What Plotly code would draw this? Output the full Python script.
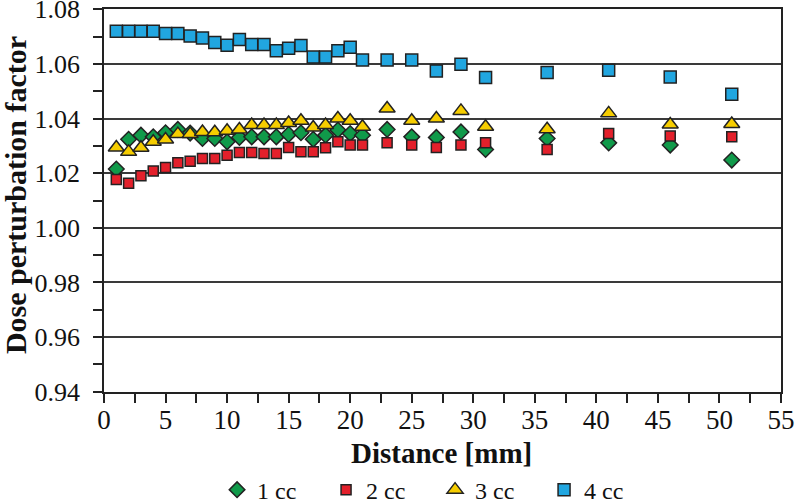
import plotly.graph_objects as go

x_dense = list(range(1, 22))
x_sparse = [23, 25, 27, 29, 31, 36, 41, 46, 51]
distance = x_dense + x_sparse

cc1 = [1.0215, 1.0324, 1.0339, 1.0333, 1.0348, 1.0360, 1.0347, 1.0327, 1.0327, 1.0315,
       1.0331, 1.0333, 1.0333, 1.0333, 1.0342, 1.0348, 1.0324, 1.0339, 1.0358, 1.0345,
       1.0339, 1.0360, 1.0333, 1.0331, 1.0351, 1.0287, 1.0327, 1.0311, 1.0303, 1.0248]
cc2 = [1.0177, 1.0163, 1.0191, 1.0208, 1.0221, 1.0238, 1.0244, 1.0254, 1.0254, 1.0266,
       1.0276, 1.0276, 1.0272, 1.0272, 1.0294, 1.0278, 1.0278, 1.0293, 1.0315, 1.0303,
       1.0303, 1.0311, 1.0303, 1.0294, 1.0303, 1.0311, 1.0287, 1.0345, 1.0336, 1.0333]
cc3 = [1.0294, 1.0278, 1.0293, 1.0315, 1.0323, 1.0343, 1.0343, 1.0351, 1.0350, 1.0355,
       1.0360, 1.0376, 1.0376, 1.0376, 1.0384, 1.0392, 1.0367, 1.0376, 1.0400, 1.0392,
       1.0370, 1.0437, 1.0392, 1.0400, 1.0428, 1.0370, 1.0361, 1.0419, 1.0378, 1.0380]
cc4 = [1.0720, 1.0720, 1.0720, 1.0720, 1.0711, 1.0711, 1.0702, 1.0695, 1.0678, 1.0668,
       1.0689, 1.0671, 1.0671, 1.0648, 1.0657, 1.0667, 1.0625, 1.0625, 1.0648, 1.0661,
       1.0614, 1.0614, 1.0614, 1.0574, 1.0599, 1.0550, 1.0569, 1.0577, 1.0552, 1.0489]

series_names = ["1 cc", "2 cc", "3 cc", "4 cc"]
series_values = [cc1, cc2, cc3, cc4]
symbols = ["diamond", "square", "triangle-up", "square"]
sizes = [12, 10, 14, 12]
colors = ["#109a4a", "#e3202b", "#f6cd00", "#21a6e0"]

y_ticks = [0.94, 0.96, 0.98, 1.00, 1.02, 1.04, 1.06, 1.08]
y_tick_text = ["0.94", "0.96", "0.98", "1.00", "1.02", "1.04", "1.06", "1.08"]

x_title = "<b>Distance [mm]</b>"
y_title = "<b>Dose perturbation factor</b>"

FONT = "Liberation Serif"

fig = go.Figure()
for name, vals, sym, sz, col in zip(series_names, series_values, symbols, sizes, colors):
    fig.add_trace(go.Scatter(
        x=distance, y=vals, mode="markers", name=name,
        marker=dict(symbol=sym, size=sz, color=col,
                    line=dict(color="#222222", width=1.5)),
    ))

fig.update_layout(
    width=795, height=504,
    margin=dict(l=104, r=14, t=9, b=112, autoexpand=False),
    paper_bgcolor="white", plot_bgcolor="white",
    font=dict(family=FONT, color="#111111", size=24),
    showlegend=True,
    legend=dict(orientation="h", x=0.167, xanchor="left", y=-0.256, yanchor="middle",
                font=dict(family=FONT, size=24), itemwidth=30,
                entrywidth=64, entrywidthmode="pixels",
                traceorder="normal", tracegroupgap=0),
    annotations=[
        dict(text=x_title, xref="paper", yref="paper", x=0.4985, y=-0.159,
             xanchor="center", yanchor="middle", showarrow=False,
             font=dict(family=FONT, size=29, color="#111111")),
        dict(text=y_title, xref="paper", yref="paper", x=-0.1315, y=0.514,
             xanchor="center", yanchor="middle", showarrow=False, textangle=-90,
             font=dict(family=FONT, size=30, color="#111111")),
    ],
)
fig.update_xaxes(
    range=[0, 55], dtick=5, tick0=0,
    showline=True, linecolor="#222222", linewidth=1.5, mirror=True,
    ticks="outside", ticklen=9, tickwidth=1.5, tickcolor="#222222",
    minor=dict(dtick=2.5, tick0=0, ticks="outside", ticklen=9, tickwidth=1.5, tickcolor="#222222"),
    showgrid=False, zeroline=False, ticklabeloverflow="allow",
    tickfont=dict(family=FONT, size=27), ticklabelstandoff=-6,
)
fig.update_yaxes(
    range=[0.9399, 1.0801], tickvals=y_ticks, ticktext=y_tick_text,
    showline=True, linecolor="#222222", linewidth=1.5, mirror=True,
    ticks="outside", ticklen=9, tickwidth=1.5, tickcolor="#222222",
    minor=dict(dtick=0.01, tick0=0.94, ticks="outside", ticklen=9, tickwidth=1.5, tickcolor="#222222"),
    showgrid=True, gridcolor="#3a3a3a", gridwidth=1.5, zeroline=False, ticklabeloverflow="allow",
    tickfont=dict(family=FONT, size=26), ticklabelstandoff=8,
)

fig.write_html("out.html", config={"displayModeBar": False},
               post_script="document.body.style.margin='0';")
